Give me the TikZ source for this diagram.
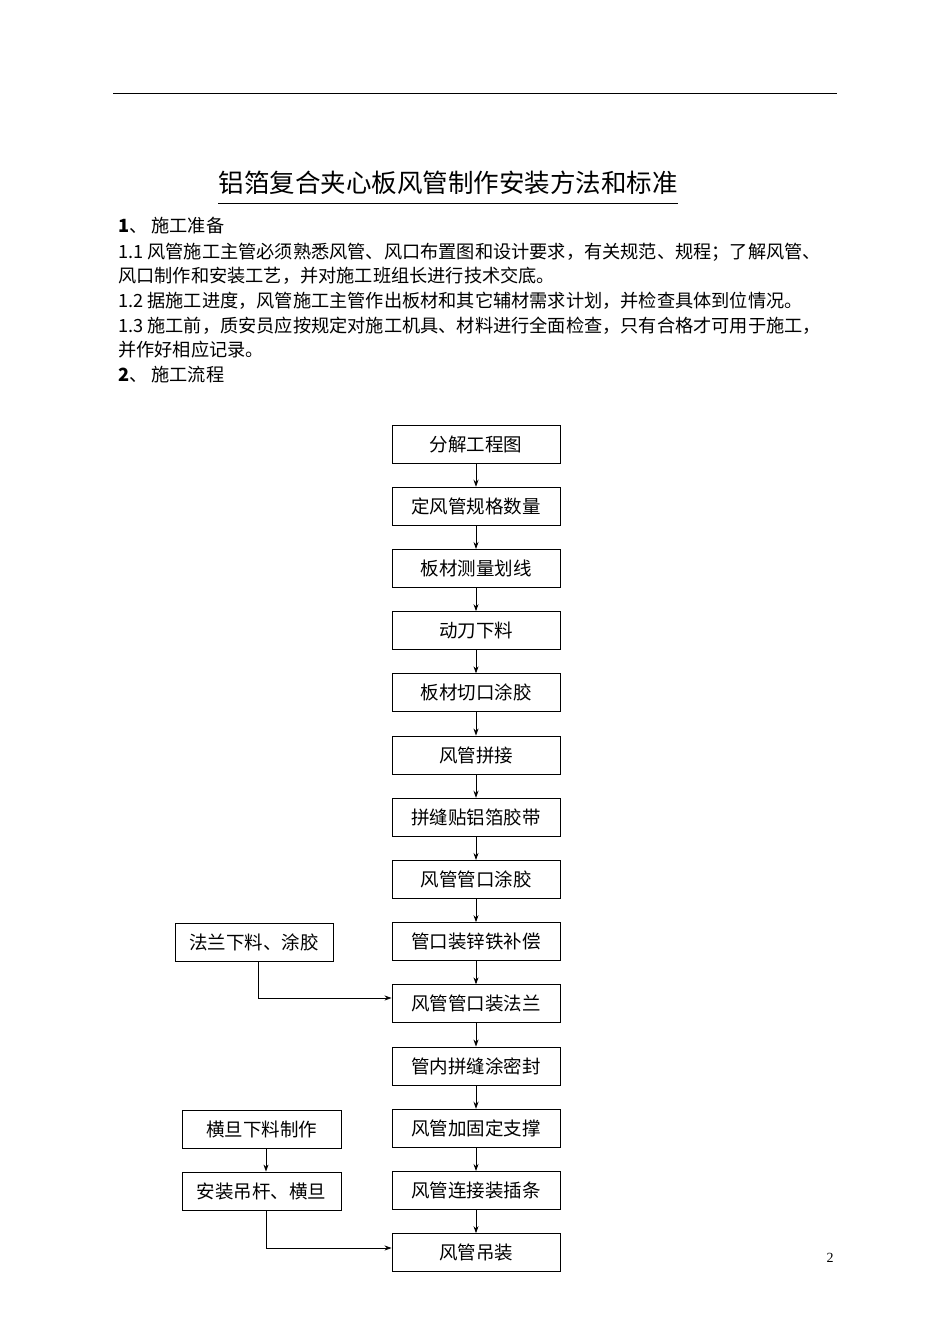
\documentclass[tikz,border=0pt]{standalone}
\usepackage{fontspec}
\setmainfont{Liberation Serif}
\newfontfamily\cjk{Noto Sans CJK SC}
\usetikzlibrary{arrows.meta}
\begin{document}
\begin{tikzpicture}[x=1pt,y=-1pt,
  box/.style={draw,line width=0.9pt,minimum width=168pt,minimum height=38pt,font=\cjk\fontsize{18.5}{20}\selectfont,inner sep=0pt},
  sbox/.style={box,minimum width=158pt},
  arr/.style={-{Stealth[length=7pt,width=5pt]},line width=0.8pt},
  txt/.style={anchor=west,inner sep=0pt,font=\cjk\fontsize{18.2}{20}\selectfont}]
\useasboundingbox (0,0) rectangle (950,1344);
\draw[line width=0.8pt] (113,93) -- (837,93);
\node[font=\cjk\fontsize{25.5}{28}\selectfont,inner sep=0pt] (title) at (448,183) {铝箔复合夹心板风管制作安装方法和标准};
\draw[line width=0.8pt] (218,203) -- (678,203);
\node[txt] (l1) at (118,226) {\textbf{1}、 施工准备};
\node[txt] (l2) at (118,252) {1.1 风管施工主管必须熟悉风管、风口布置图和设计要求，有关规范、规程；了解风管、};
\node[txt] (l3) at (118,276) {风口制作和安装工艺，并对施工班组长进行技术交底。};
\node[txt] (l4) at (118,301) {1.2 据施工进度，风管施工主管作出板材和其它辅材需求计划，并检查具体到位情况。};
\node[txt] (l5) at (118,326) {1.3 施工前，质安员应按规定对施工机具、材料进行全面检查，只有合格才可用于施工，};
\node[txt] (l6) at (118,350) {并作好相应记录。};
\node[txt] (l7) at (118,375) {\textbf{2}、 施工流程};
\foreach \t [count=\i] in {分解工程图,定风管规格数量,板材测量划线,动刀下料,板材切口涂胶,风管拼接,拼缝贴铝箔胶带,风管管口涂胶,管口装锌铁补偿,风管管口装法兰,管内拼缝涂密封,风管加固定支撑,风管连接装插条,风管吊装}
  \node[box] (m\i) at (476,{444+62.2*(\i-1)}) {\t};
\foreach \i [evaluate=\i as \j using int(\i+1)] in {1,...,13}
  \draw[arr] (m\i) -- (m\j);
\node[sbox] (fl) at (254,942) {法兰下料、涂胶};
\node[sbox,minimum width=159pt] (hd) at (261.5,1129) {横旦下料制作};
\node[sbox,minimum width=159pt] (az) at (261.5,1191) {安装吊杆、横旦};
\draw[arr] (fl.south -| 258,0) -- (258,998) -- (m10.west |- 0,998);
\draw[arr] (hd.south -| 266,0) -- (az.north -| 266,0);
\draw[arr] (az.south -| 266,0) -- (266,1248) -- (m14.west |- 0,1248);
\node[font=\fontsize{14}{16}\selectfont] (pg) at (830,1258) {2};
\end{tikzpicture}
\end{document}
